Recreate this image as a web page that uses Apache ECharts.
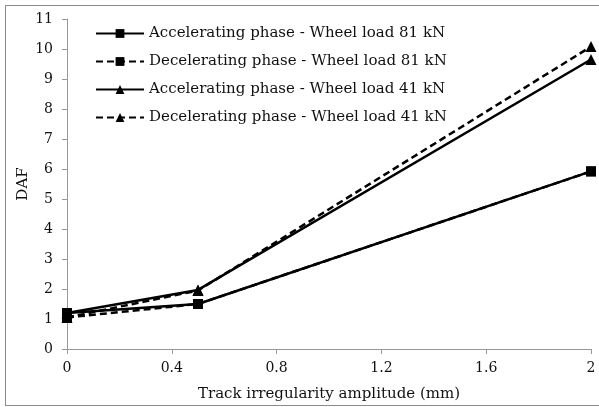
<!DOCTYPE html>
<html>
<head>
<meta charset="utf-8">
<script src="https://cdn.jsdelivr.net/npm/echarts@6/dist/echarts.min.js"></script>
<style>
  html, body { margin: 0; padding: 0; background: #fff; overflow: hidden; }
  #frame { position: absolute; left: 5px; top: 5px; width: 620px; height: 399px; border: 1px solid #8c8c8c; }
  #chart { position: absolute; left: 0; top: 0; width: 599px; height: 407px; }
</style>
</head>
<body>
<div id="frame"></div>
<div id="chart"></div>
<script>
  // track irregularity amplitude (mm)
  const amplitude = [0, 0.5, 2];
  const accel81 = [1.2, 1.5, 5.92];
  const decel81 = [1.05, 1.5, 5.92];
  const accel41 = [1.2, 1.97, 9.65];
  const decel41 = [1.05, 1.95, 10.08];

  const names = [
    "Accelerating phase - Wheel load 81 kN",
    "Decelerating phase - Wheel load 81 kN",
    "Accelerating phase - Wheel load 41 kN",
    "Decelerating phase - Wheel load 41 kN",
  ];

  const font = "DejaVu Serif";

  function makeSeries(name, values, symbol, dashed) {
    return {
      name: name,
      type: "line",
      data: amplitude.map((x, i) => [x, values[i]]),
      symbol: symbol,
      symbolSize: symbol === "rect" ? 10 : 11,
      itemStyle: { color: "#000" },
      lineStyle: {
        color: "#000",
        width: 2.5,
        type: dashed ? [7, 4] : "solid",
      },
    };
  }

  const chart = echarts.init(document.getElementById("chart"));

  const option = {
    animation: false,
    backgroundColor: "transparent",
    textStyle: { fontFamily: font },
    grid: { left: 67, right: 8, top: 19, bottom: 58 },
    legend: {
      orient: "vertical",
      left: 90,
      top: 21,
      itemWidth: 48,
      itemHeight: 11,
      itemGap: 13,
      textStyle: { fontFamily: font, fontSize: 15, color: "#111" },
      data: names,
    },
    xAxis: {
      type: "value",
      min: 0,
      max: 2,
      interval: 0.4,
      name: "Track irregularity amplitude (mm)",
      nameLocation: "middle",
      nameGap: 38,
      nameMoveOverlap: false,
      nameTextStyle: { fontFamily: font, fontSize: 15, color: "#111" },
      axisLine: { lineStyle: { color: "#999" } },
      axisTick: { show: true, length: 5, lineStyle: { color: "#999" } },
      axisLabel: {
        fontFamily: font,
        fontSize: 14,
        color: "#111",
        margin: 12,
        formatter: (v) => String(Math.round(v * 10) / 10),
      },
      splitLine: { show: false },
    },
    yAxis: {
      type: "value",
      min: 0,
      max: 11,
      interval: 1,
      name: "DAF",
      nameLocation: "middle",
      nameRotate: 90,
      nameGap: 36,
      nameMoveOverlap: false,
      nameTextStyle: { fontFamily: font, fontSize: 15, color: "#111" },
      axisLine: { show: true, lineStyle: { color: "#999" } },
      axisTick: { show: true, length: 5, lineStyle: { color: "#999" } },
      axisLabel: { fontFamily: font, fontSize: 14, color: "#111", margin: 14 },
      splitLine: { show: false },
    },
    series: [
      makeSeries(names[0], accel81, "rect", false),
      makeSeries(names[1], decel81, "rect", true),
      makeSeries(names[2], accel41, "triangle", false),
      makeSeries(names[3], decel41, "triangle", true),
    ],
  };

  chart.setOption(option);
</script>
</body>
</html>
